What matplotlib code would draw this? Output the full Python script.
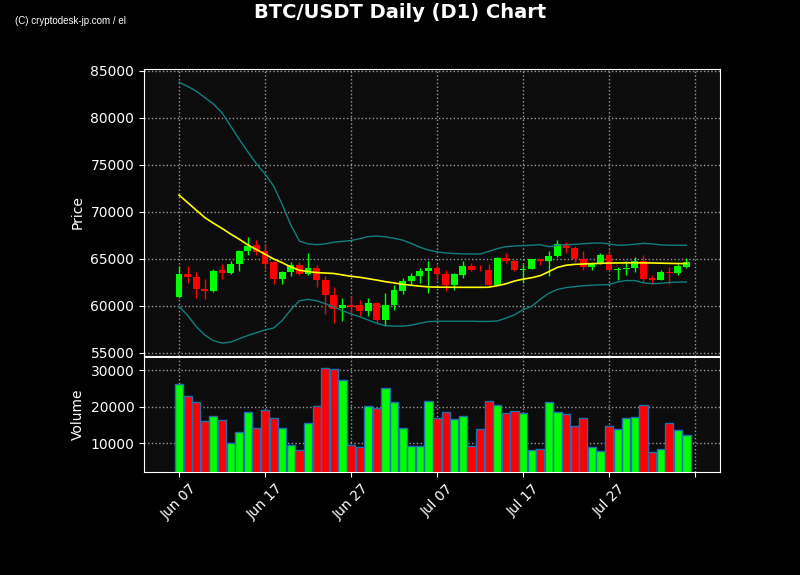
"""Daily BTC/USDT candlestick chart with Bollinger bands and volume."""
import matplotlib
matplotlib.use('Agg')
import matplotlib.pyplot as plt
import numpy as np
import pandas as pd

# Dark theme
plt.rcParams['font.size'] = 10
plt.rcParams['text.color'] = 'white'
plt.rcParams['axes.labelcolor'] = 'white'
plt.rcParams['xtick.color'] = 'white'
plt.rcParams['ytick.color'] = 'white'

TITLE = 'BTC/USDT Daily (D1) Chart'
dates = pd.date_range('2024-06-07', periods=60, freq='D')

# OHLC
opens = [60900, 63450, 63100, 61850, 61550, 63800, 63550, 64450, 65800, 66450,
         65800, 64650, 62900, 63600, 64400, 63350, 64050, 62750, 61150, 59750,
         60050, 60100, 59500, 60350, 58550, 60150, 61550, 62700, 63200, 63700,
         64050, 63450, 62250, 63250, 64300, 63850, 63850, 62250, 65150, 64800,
         63800, 63950, 64950, 64800, 65350, 66600, 66150, 65000, 64100, 64500,
         65450, 63800, 63950, 64000, 64800, 63000, 62800, 63650, 63550, 64150]
highs = [64300, 64300, 63600, 62870, 63950, 64470, 64750, 65900, 67340, 67050,
         66600, 64820, 63750, 64640, 64670, 65650, 64400, 63150, 62020, 60850,
         61020, 60600, 60850, 60400, 61380, 62230, 62980, 63510, 64040, 64750,
         64400, 63830, 63510, 64750, 64570, 64400, 64470, 65200, 65640, 64900,
         64470, 65000, 65000, 65810, 67000, 66770, 66340, 65810, 64570, 65650,
         65900, 64150, 64750, 65170, 65460, 63250, 63800, 64150, 64430, 65100]
lows = [60800, 62450, 60850, 60750, 61500, 62870, 63450, 63720, 65460, 65380,
        63940, 62340, 62340, 63150, 63300, 63300, 62020, 59150, 58190, 58360,
        58950, 58890, 58890, 58200, 57830, 59570, 61280, 62270, 62450, 61380,
        62720, 61600, 61660, 62940, 63750, 63680, 62160, 62200, 64570, 63700,
        62450, 63900, 64390, 63150, 65250, 65640, 64680, 63790, 63790, 64450,
        63700, 62800, 63250, 63570, 62550, 62340, 62750, 62340, 63330, 64000]
closes = [63400, 63050, 61750, 61550, 63750, 63550, 64500, 65880, 66420, 65700,
          64500, 62900, 63650, 64400, 63350, 64050, 62750, 61150, 59700, 60100,
          59900, 59500, 60300, 58550, 60150, 61650, 62700, 63200, 63750, 64050,
          63350, 62250, 63350, 64300, 63800, 63800, 62250, 65150, 64750, 63800,
          63950, 64950, 64800, 65350, 66600, 66150, 65000, 64100, 64500, 65450,
          63800, 63950, 64050, 64750, 62900, 62800, 63650, 63550, 64200, 64700]
volumes = [26350, 22880, 21420, 16030, 17400, 16300, 10000, 13010, 18490, 14110,
           19040, 16940, 14110, 9450, 8080, 15480, 20140, 30550, 30270, 27260,
           9450, 8900, 20140, 19590, 25070, 21230, 14110, 9180, 9180, 21510,
           16850, 18490, 16580, 17400, 9180, 13840, 21510, 20410, 18220, 18770,
           18220, 8080, 8360, 21230, 18490, 17950, 14750, 16850, 8900, 7810,
           14750, 13840, 16850, 17120, 20410, 7530, 8360, 15480, 13560, 12190]

# Bollinger bands (20, 2) as drawn
bb_mid = [71800, 71000, 70200, 69400, 68800, 68250, 67650, 67100, 66500, 66000,
          65500, 65000, 64600, 64150, 63800, 63650, 63550, 63500, 63450, 63300,
          63150, 63050, 62900, 62750, 62580, 62450, 62300, 62200, 62100, 62030,
          62000, 61990, 61985, 61980, 61980, 61980, 61990, 62150, 62350, 62650,
          62850, 63000, 63220, 63650, 64100, 64330, 64420, 64460, 64500, 64530,
          64560, 64570, 64580, 64580, 64580, 64570, 64550, 64530, 64510, 64500]
bb_upper = [83800, 83370, 82850, 82170, 81490, 80550, 79150, 77730, 76400, 75130,
            74040, 72760, 70800, 68600, 66900, 66600, 66520, 66600, 66780, 66870,
            66960, 67150, 67380, 67430, 67350, 67200, 67000, 66650, 66250, 65950,
            65750, 65640, 65580, 65540, 65530, 65520, 65800, 66100, 66300, 66380,
            66420, 66460, 66520, 66300, 66450, 66500, 66550, 66620, 66680, 66700,
            66600, 66460, 66480, 66560, 66660, 66600, 66500, 66460, 66450, 66450]
bb_lower = [59950, 59000, 57800, 56900, 56300, 56050, 56150, 56500, 56850, 57150,
            57450, 57650, 58450, 59600, 60550, 60700, 60550, 60250, 59900, 59500,
            59150, 58850, 58500, 58150, 57900, 57850, 57850, 57950, 58150, 58330,
            58370, 58370, 58370, 58370, 58370, 58350, 58350, 58400, 58700, 59050,
            59600, 59950, 60700, 61350, 61750, 61950, 62050, 62150, 62200, 62250,
            62270, 62550, 62700, 62700, 62450, 62370, 62400, 62500, 62530, 62550]

x = np.arange(len(dates))
o = np.array(opens)
c = np.array(closes)
colors = np.where(c >= o, '#00ff00', '#ff0000')

fig = plt.figure(figsize=(8, 5.75), dpi=100, facecolor='black')
ax = fig.add_axes([0.18, 0.381, 0.72, 0.499])
axv = fig.add_axes([0.18, 0.179, 0.72, 0.2], sharex=ax)

for a in (ax, axv):
    a.set_facecolor('#0c0c0c')
    for s in a.spines.values():
        s.set_color('white')
    a.grid(True, color='#9a9a9a', linestyle=':', linewidth=1)
    a.set_axisbelow(True)

# candles: wick + body
ax.vlines(x, lows, highs, color=colors, linewidth=1, zorder=2)
ax.bar(x, np.abs(c - o), bottom=np.minimum(o, c), width=0.8, color=colors,
       zorder=3)

# bands
ax.plot(x, bb_upper, color='#0f7f7f', linewidth=1, zorder=4)
ax.plot(x, bb_lower, color='#0f7f7f', linewidth=1, zorder=4)
ax.plot(x, bb_mid, color='#ffff00', linewidth=1.2, zorder=4)

ax.set_ylim(54680, 85210)
ax.set_yticks([55000, 60000, 65000, 70000, 75000, 80000, 85000])
ax.set_ylabel('Price')
ax.tick_params(axis='x', labelbottom=False, length=0)

# volume
axv.bar(x, volumes, width=0.95, color=colors, edgecolor='#1f6fb4',
        linewidth=1, zorder=3)
axv.set_ylim(2140, 33640)
axv.set_yticks([10000, 20000, 30000])
axv.set_ylabel('Volume')

ticks = np.arange(0, 61, 10)
labels = [dates[i].strftime('%b %d') if i < len(dates) else '' for i in ticks]
axv.set_xticks(ticks)
axv.set_xticklabels(labels, rotation=45)
axv.set_xlim(-4.07, 62.9)

fig.suptitle(TITLE, color='white', fontsize=14, fontweight='bold', y=0.995)
fig.text(15 / 800, 1 - 21 / 575, '(C) cryptodesk-jp.com / el', color='white',
         fontsize=7, family='Liberation Sans', va='center')

fig.savefig('out.png', dpi=100, facecolor='black')
